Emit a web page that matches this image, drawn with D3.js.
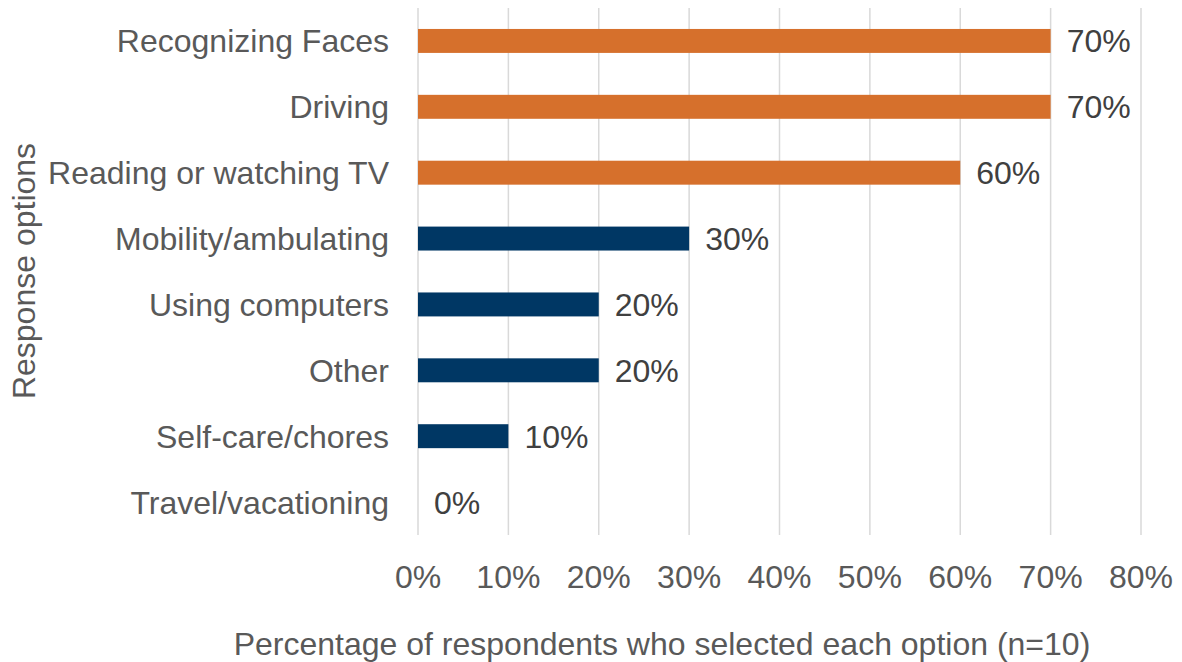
<!DOCTYPE html>
<html>
<head>
<meta charset="utf-8">
<script src="https://cdn.jsdelivr.net/npm/d3@7"></script>
<style>
  html, body { margin: 0; padding: 0; background: #fff; }
  svg text { font-family: "Liberation Sans", Arial, sans-serif; }
</style>
</head>
<body>
<svg id="chart" width="1182" height="662"></svg>
<script>
// Share of respondents selecting each activity (n=10)
const categories = [
  "Recognizing Faces",
  "Driving",
  "Reading or watching TV",
  "Mobility/ambulating",
  "Using computers",
  "Other",
  "Self-care/chores",
  "Travel/vacationing"
];
const values = [0.7, 0.7, 0.6, 0.3, 0.2, 0.2, 0.1, 0.0];
const highlighted = [true, true, true, false, false, false, false, false];
const xTicks = [0, 0.1, 0.2, 0.3, 0.4, 0.5, 0.6, 0.7, 0.8];
const xTitle = "Percentage of respondents who selected each option (n=10)";
const yTitle = "Response options";

const svg = d3.select("#chart");
const margin = { left: 418, right: 41, top: 8, bottom: 127 };
const W = 1182, H = 662;

const x = d3.scaleLinear().domain([0, 0.8]).range([margin.left, W - margin.right]);
const y = d3.scaleBand().domain(categories).range([margin.top, H - margin.bottom]).paddingInner(42 / 66).paddingOuter(21 / 66);

const fmt = d3.format(".0%");
const fontSize = 32;

// vertical gridlines
svg.append("g")
  .selectAll("line")
  .data(xTicks)
  .join("line")
  .attr("x1", d => x(d)).attr("x2", d => x(d))
  .attr("y1", margin.top).attr("y2", H - margin.bottom)
  .attr("stroke", "#d9d9d9")
  .attr("stroke-width", 1.5);

// bars
svg.append("g")
  .selectAll("rect")
  .data(categories)
  .join("rect")
  .attr("x", x(0))
  .attr("y", d => y(d))
  .attr("width", (d, i) => x(values[i]) - x(0))
  .attr("height", y.bandwidth())
  .attr("fill", (d, i) => highlighted[i] ? "#d6702c" : "#003764");

// value labels
svg.append("g")
  .selectAll("text")
  .data(categories)
  .join("text")
  .attr("x", (d, i) => x(values[i]) + 16)
  .attr("y", d => y(d) + y.bandwidth() / 2)
  .attr("dy", "0.36em")
  .attr("font-size", fontSize)
  .attr("fill", "#404040")
  .text((d, i) => fmt(values[i]));

// category labels
svg.append("g")
  .selectAll("text")
  .data(categories)
  .join("text")
  .attr("x", 389)
  .attr("y", d => y(d) + y.bandwidth() / 2)
  .attr("dy", "0.36em")
  .attr("text-anchor", "end")
  .attr("font-size", fontSize)
  .attr("fill", "#595959")
  .text(d => d);

// x tick labels
svg.append("g")
  .selectAll("text")
  .data(xTicks)
  .join("text")
  .attr("x", d => x(d))
  .attr("y", 588)
  .attr("text-anchor", "middle")
  .attr("font-size", fontSize)
  .attr("fill", "#595959")
  .text(d => fmt(d));

// axis titles
svg.append("text")
  .attr("x", 662)
  .attr("y", 655)
  .attr("text-anchor", "middle")
  .attr("font-size", fontSize)
  .attr("fill", "#595959")
  .text(xTitle);

svg.append("text")
  .attr("transform", "translate(35," + 271 + ") rotate(-90)")
  .attr("text-anchor", "middle")
  .attr("font-size", fontSize)
  .attr("fill", "#595959")
  .text(yTitle);
</script>
</body>
</html>
